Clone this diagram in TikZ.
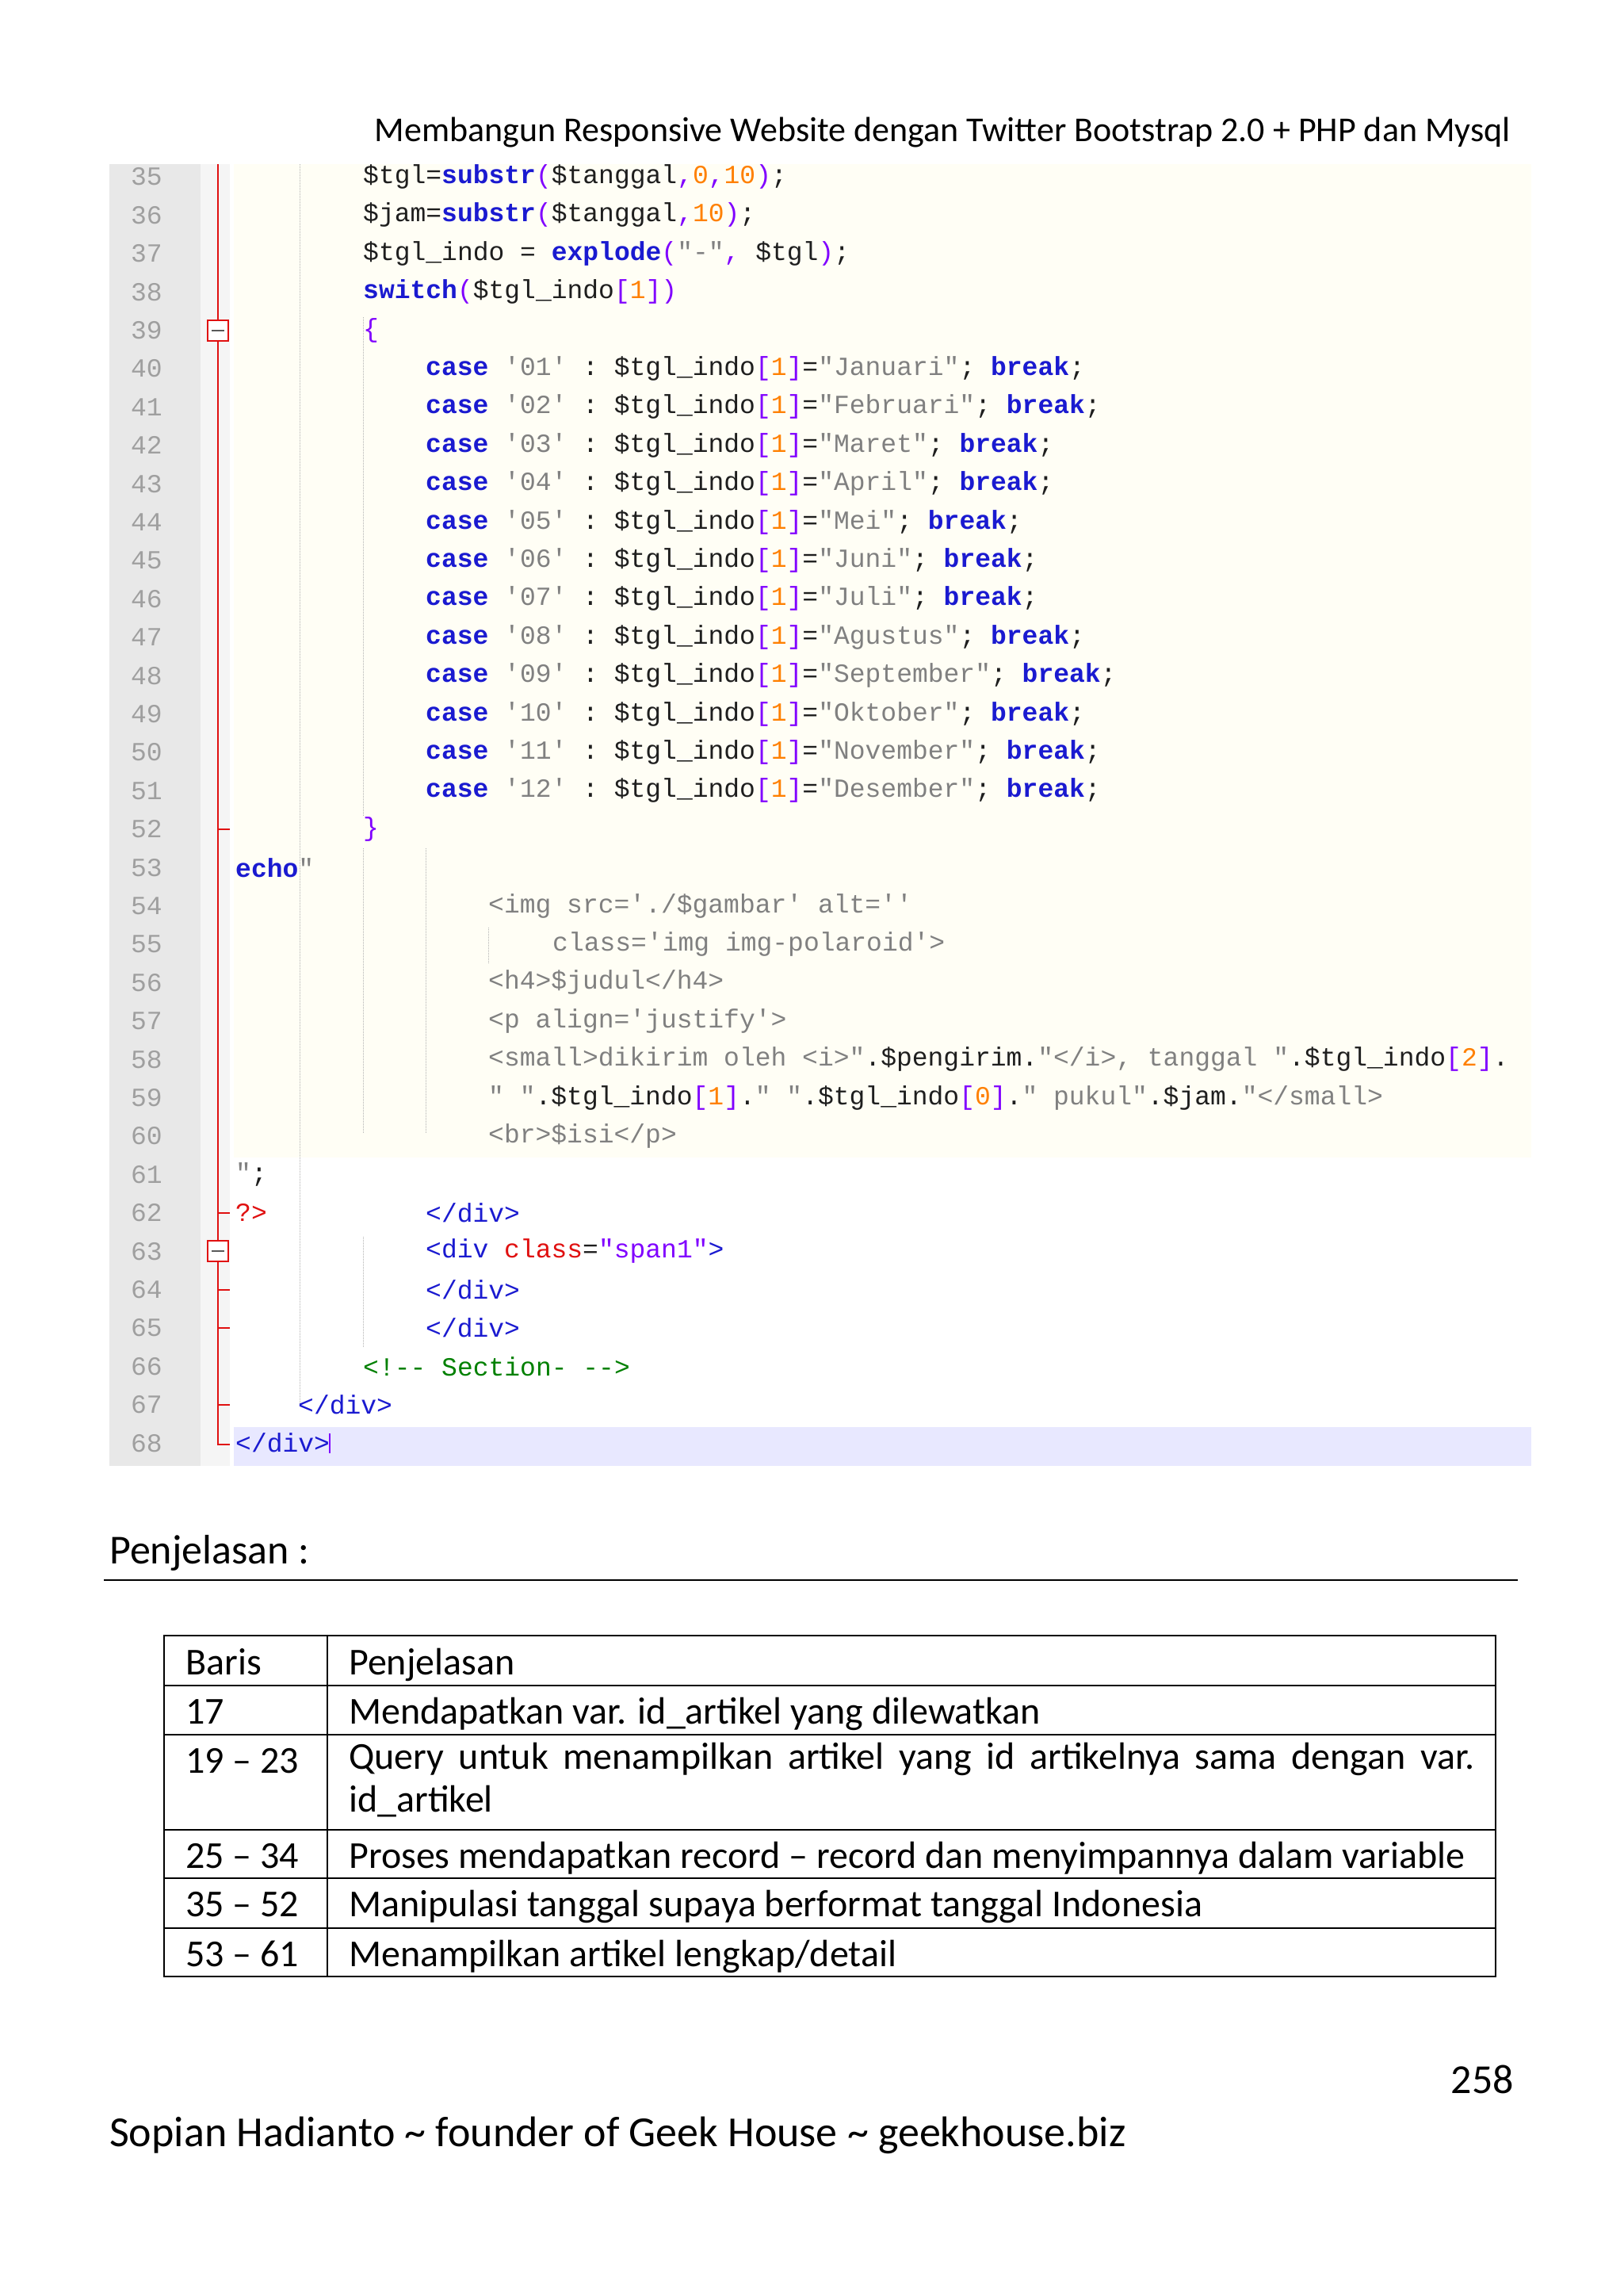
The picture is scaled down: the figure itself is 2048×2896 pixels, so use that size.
\documentclass[tikz,border=0pt]{standalone}
\usepackage{fontspec}
\setmainfont{Carlito}
\setmonofont{Liberation Mono}
\usetikzlibrary{calc}
\definecolor{cvar}{HTML}{1E1E1E}
\definecolor{ckw}{HTML}{1A1AD0}
\definecolor{cnum}{HTML}{FF8000}
\definecolor{cstr}{HTML}{808080}
\definecolor{cpar}{HTML}{8000FF}
\definecolor{cred}{HTML}{E01010}
\definecolor{cgrn}{HTML}{008000}
\newcommand\xk[1]{\textcolor{ckw}{\bfseries #1}}
\newcommand\xb[1]{\textcolor{ckw}{#1}}
\newcommand\xn[1]{\textcolor{cnum}{#1}}
\newcommand\xs[1]{\textcolor{cstr}{#1}}
\newcommand\xp[1]{\textcolor{cpar}{#1}}
\newcommand\xr[1]{\textcolor{cred}{#1}}
\newcommand\xg[1]{\textcolor{cgrn}{#1}}
\newcommand\ycoord[1]{\fpeval{223+(#1-35)*48.4}}
\newcommand\codeln[3]{\node[code] (c#1) at (#2,\ycoord{#1}) {#3};}
\newcommand\casel[3]{\codeln{#1}{537}{\xk{case} \xs{'#2'} : \$tgl\_indo\xp{[}\xn{1}\xp{]}=\xs{"#3"}; \xk{break};}}
\begin{document}
\begin{tikzpicture}[x=1pt,y=-1pt,
  code/.style={anchor=west,inner sep=0pt,font=\ttfamily\fontsize{33}{33}\selectfont,text=cvar},
  lnum/.style={anchor=center,inner sep=0pt,font=\ttfamily\fontsize{33}{33}\selectfont,text=gray!75},
  body/.style={anchor=base west,inner sep=0pt,font=\fontsize{48}{58}\selectfont},
  guide/.style={gray!60,densely dotted,line width=1pt}]
\useasboundingbox (0,0) rectangle (2048,2896);
\fill[white] (0,0) rectangle (2048,2896);
\node[anchor=base east,inner sep=0pt,font=\fontsize{44}{44}\selectfont] (hdr) at (1906,178) {Membangun Responsive Website dengan Twitter Bootstrap 2.0 + PHP dan Mysql};
% code area
\fill[gray!18] (138,207) rectangle (253,1849);
\fill[gray!8] (253,207) rectangle (290,1849);
\fill[yellow!4!white] (295,207) rectangle (1932,1460);
\fill[blue!9] (295,1800) rectangle (1932,1849);
% guides
\draw[guide] (378,207) -- (378,1775);
\draw[guide] (458,400) -- (458,1030);
\draw[guide] (458,1070) -- (458,1430);
\draw[guide] (537,1070) -- (537,1430);
\draw[guide] (458,1560) -- (458,1700);
\draw[guide] (616,1170) -- (616,1215);
% red fold line
\draw[cred,line width=2pt] (275,207) -- (275,1822) -- (290,1822);
\foreach \n in {52,62,64,65,67} {\draw[cred,line width=2pt] (275,\ycoord{\n}) -- (290,\ycoord{\n});}
\foreach \n in {39,63} {\draw[cred,line width=2pt,fill=white] (262,\ycoord{\n}-13) rectangle (288,\ycoord{\n}+13);
  \draw[gray!70!black,line width=2pt] (267,\ycoord{\n}) -- (283,\ycoord{\n});}
\foreach \n in {35,...,68} {\node[lnum] (n\n) at (185,\ycoord{\n}) {\n};}
\codeln{35}{458}{\$tgl=\xk{substr}\xp{(}\$tanggal\xp{,}\xn{0}\xp{,}\xn{10}\xp{)};}
\codeln{36}{458}{\$jam=\xk{substr}\xp{(}\$tanggal\xp{,}\xn{10}\xp{)};}
\codeln{37}{458}{\$tgl\_indo = \xk{explode}\xp{(}\xs{"-"}\xp{,} \$tgl\xp{)};}
\codeln{38}{458}{\xk{switch}\xp{(}\$tgl\_indo\xp{[}\xn{1}\xp{])}}
\codeln{39}{458}{\xp{\{}}
\casel{40}{01}{Januari}
\casel{41}{02}{Februari}
\casel{42}{03}{Maret}
\casel{43}{04}{April}
\casel{44}{05}{Mei}
\casel{45}{06}{Juni}
\casel{46}{07}{Juli}
\casel{47}{08}{Agustus}
\casel{48}{09}{September}
\casel{49}{10}{Oktober}
\casel{50}{11}{November}
\casel{51}{12}{Desember}
\codeln{52}{458}{\xp{\}}}
\codeln{53}{297}{\xk{echo}\xs{"}}
\codeln{54}{616}{\xs{<img src='./\$gambar' alt=''}}
\codeln{55}{697}{\xs{class='img img-polaroid'>}}
\codeln{56}{616}{\xs{<h4>\$judul</h4>}}
\codeln{57}{616}{\xs{<p align='justify'>}}
\codeln{58}{616}{\xs{<small>dikirim oleh <i>"}.\$pengirim.\xs{"</i>, tanggal "}.\$tgl\_indo\xp{[}\xn{2}\xp{]}.}
\codeln{59}{616}{\xs{" "}.\$tgl\_indo\xp{[}\xn{1}\xp{]}.\xs{" "}.\$tgl\_indo\xp{[}\xn{0}\xp{]}.\xs{" pukul"}.\$jam.\xs{"</small>}}
\codeln{60}{616}{\xs{<br>\$isi</p>}}
\codeln{61}{297}{\xs{"};}
\codeln{62}{297}{\xr{?>}}
\node[code] (c62b) at (537,\ycoord{62}) {\xb{</div>}};
\codeln{63}{537}{\xb{<div} \xr{class}=\xp{"span1"}\xb{>}}
\codeln{64}{537}{\xb{</div>}}
\codeln{65}{537}{\xb{</div>}}
\codeln{66}{458}{\xg{<!-- Section- -->}}
\codeln{67}{376}{\xb{</div>}}
\codeln{68}{297}{\xb{</div>}}
\draw[cpar,line width=2pt] (c68.north east) -- (c68.south east);
% explanation
\node[anchor=base west,inner sep=0pt,font=\fontsize{52}{52}\selectfont] (pj) at (138,1972) {Penjelasan :};
\draw[line width=2.5pt] (131,1993) -- (1915,1993);
\draw[line width=2pt] (207,2063) rectangle (1887,2493);
\foreach \y in {2126,2188,2308,2369,2432} {\draw[line width=2pt] (207,\y) -- (1887,\y);}
\draw[line width=2pt] (413,2063) -- (413,2493);
\node[body] (r0a) at (234,2112) {Baris};
\node[body] (r0b) at (440,2112) {Penjelasan};
\node[body] (r1a) at (234,2174) {17};
\node[body] (r1b) at (440,2174) {Mendapatkan var. id\_artikel yang dilewatkan};
\node[body] (r2a) at (234,2236) {19 – 23};
\node[anchor=north west,inner sep=0pt,text width=1420pt,align=justify,font=\fontsize{48}{54}\selectfont] (r2b) at (440,2198) {Query untuk menampilkan artikel yang id artikelnya sama dengan var. id\_artikel};
\node[body] (r3a) at (234,2356) {25 – 34};
\node[body] (r3b) at (440,2356) {Proses mendapatkan record – record dan menyimpannya dalam variable};
\node[body] (r4a) at (234,2417) {35 – 52};
\node[body] (r4b) at (440,2417) {Manipulasi tanggal supaya berformat tanggal Indonesia};
\node[body] (r5a) at (234,2480) {53 – 61};
\node[body] (r5b) at (440,2480) {Menampilkan artikel lengkap/detail};
\node[anchor=base east,inner sep=0pt,font=\fontsize{52}{52}\selectfont] (pg) at (1910,2640) {258};
\node[anchor=base west,inner sep=0pt,font=\fontsize{54}{54}\selectfont] (ft) at (138,2707) {Sopian Hadianto \textasciitilde{} founder of Geek House \textasciitilde{} geekhouse.biz};
\end{tikzpicture}
\end{document}
